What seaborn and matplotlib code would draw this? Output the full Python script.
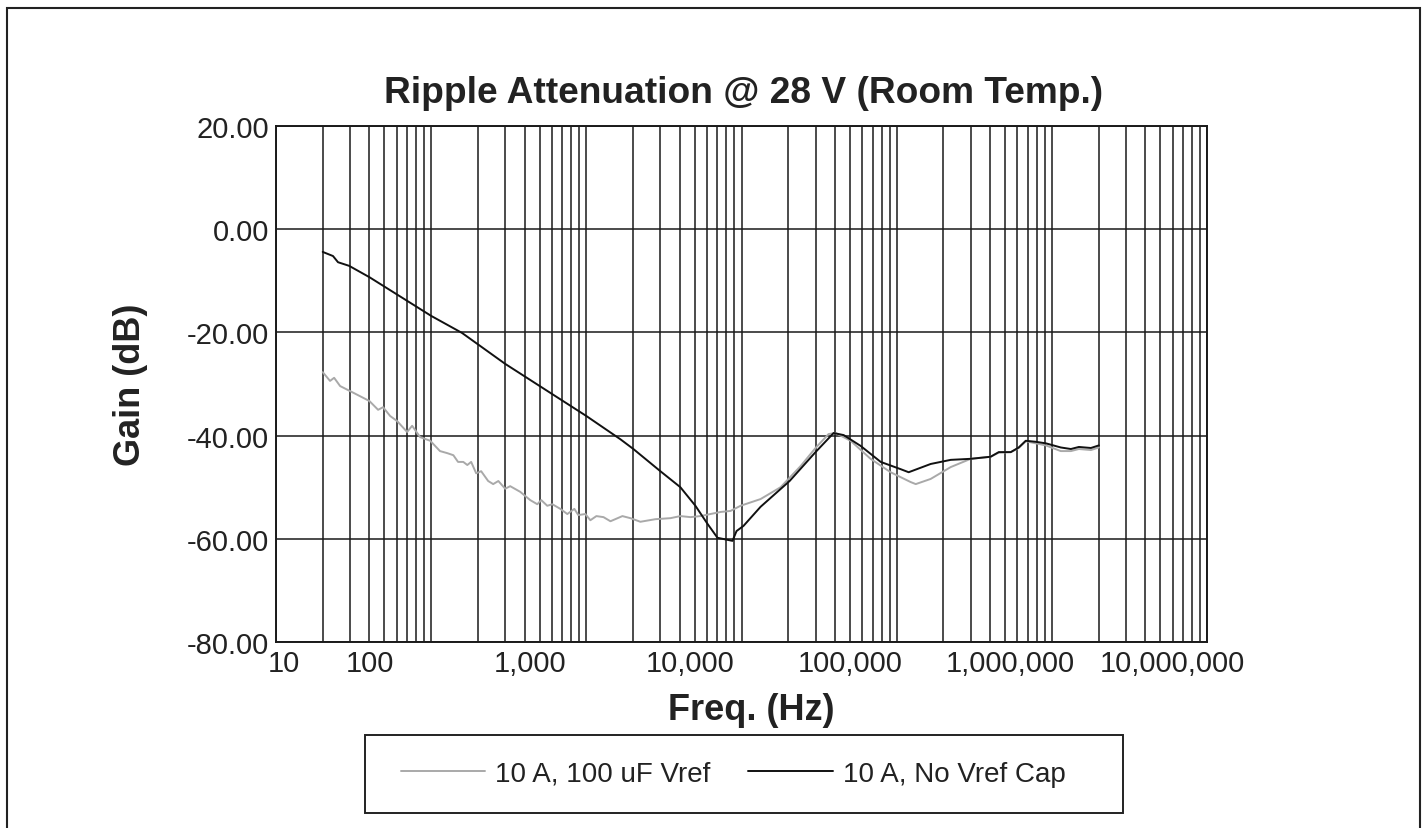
import numpy as np
import pandas as pd
import matplotlib
matplotlib.use("Agg")
import matplotlib.pyplot as plt
import matplotlib.transforms as mtransforms
from matplotlib.patches import Rectangle
from matplotlib.ticker import LogLocator, MultipleLocator, NullFormatter
import seaborn as sns

# --- dati ---
SERIE_GRIGIA = "10 A, 100 uF Vref"
SERIE_NERA = "10 A, No Vref Cap"

freq_grigia = [20, 22.3, 23.7, 25.9, 32, 40, 45.5, 49, 54.4, 60.4, 70, 75.4, 84.9, 98.6,
               114, 127, 139, 149, 161, 171, 181, 195, 210, 233, 251, 271, 300, 323,
               375, 435, 483, 512, 560, 604, 680, 754, 837, 888, 985, 1062, 1161, 1290,
               1430, 1708, 1923, 2230, 2786, 3483, 4036, 4692, 5430, 6310, 7330, 8490,
               9860, 13270, 17870, 24050, 30000, 36400, 40360, 50470, 67900, 91400,
               123000, 132700, 165600, 223000, 300000, 403000, 455000, 544000, 612000,
               679000, 788000, 915000, 1142000, 1327000, 1494000, 1786000, 2009000]
gain_grigia = [-27.7, -29.4, -28.8, -30.4, -31.8, -33.3, -35.0, -34.5, -36.2, -37.2, -39.3,
               -38.1, -40.3, -41.0, -43.0, -43.4, -43.8, -45.1, -45.1, -45.7, -45.1, -47.3,
               -46.9, -48.8, -49.4, -48.8, -50.3, -49.8, -50.9, -52.5, -53.3, -52.5, -53.6,
               -53.3, -54.2, -55.2, -54.2, -55.4, -55.2, -56.4, -55.6, -55.8, -56.6, -55.6,
               -56.0, -56.7, -56.2, -56.0, -55.6, -55.8, -55.6, -55.2, -54.8, -54.6, -53.6,
               -52.3, -50.0, -45.9, -42.4, -39.7, -39.5, -41.0, -44.5, -47.1, -49.0, -49.4,
               -48.4, -46.1, -44.5, -44.1, -43.3, -43.2, -42.4, -41.1, -41.5, -41.9, -43.0,
               -43.0, -42.6, -42.8, -42.3]

freq_nera = [20, 23.3, 25.1, 29.6, 40, 100, 158, 300, 1000, 1656, 2010, 3000, 4036, 5046,
             6037, 7000, 8750, 9290, 10300, 13270, 20420, 30000, 39230, 45540, 58600,
             78900, 106000, 119500, 165600, 223000, 300000, 403000, 455000, 544000,
             612000, 679000, 788000, 915000, 1142000, 1327000, 1494000, 1786000, 2009000]
gain_nera = [-4.4, -5.2, -6.4, -7.1, -9.3, -16.8, -20.1, -26.1, -36.2, -40.7, -42.6, -46.9,
             -50.0, -53.6, -57.1, -59.8, -60.4, -58.5, -57.5, -53.8, -48.8, -43.2, -39.5,
             -39.9, -42.0, -45.1, -46.5, -47.1, -45.5, -44.7, -44.5, -44.1, -43.2, -43.2,
             -42.3, -41.0, -41.2, -41.5, -42.3, -42.6, -42.2, -42.4, -41.9]

decadi = [10, 100, 1000, 10000, 100000, 1000000, 10000000]
etichette_x = ["10", "100", "1,000", "10,000", "100,000", "1,000,000", "10,000,000"]
tick_y = [-80, -60, -40, -20, 0, 20]

# spostamento (pixel) delle etichette x come nell'originale
offset_etichette = [8, -61, -56, -51, -46, -42, -35]

df = pd.concat([
    pd.DataFrame({"freq": freq_grigia, "gain": gain_grigia, "serie": SERIE_GRIGIA}),
    pd.DataFrame({"freq": freq_nera, "gain": gain_nera, "serie": SERIE_NERA}),
], ignore_index=True)

sns.set_style("white")
plt.rcParams['font.family'] = ['Liberation Sans', 'DejaVu Sans']

W, H = 1426, 829
fig = plt.figure(figsize=(W / 100, H / 100), dpi=100)
ax = fig.add_axes([276 / W, 1 - 643 / H, (1207 - 276) / W, (643 - 127) / H])

sns.lineplot(data=df, x="freq", y="gain", hue="serie",
             palette={SERIE_GRIGIA: "#a9a9a9", SERIE_NERA: "#111111"},
             estimator=None, linewidth=1.4, ax=ax)

ax.set_xscale("log")
ax.set_xlim(10, 1e7)
ax.set_ylim(-80, 20)

# griglia
ax.set_xticks(decadi)
ax.set_xticklabels(etichette_x)
ax.xaxis.set_minor_locator(LogLocator(base=10, subs=np.arange(2, 10)))
ax.xaxis.set_minor_formatter(NullFormatter())
ax.grid(which="both", axis="x", color="#1a1a1a", linewidth=1.1)
ax.set_yticks(tick_y)
ax.set_yticklabels([f"{v:.2f}" for v in tick_y])
ax.yaxis.set_minor_locator(MultipleLocator(10))
ax.grid(which="major", axis="y", color="#1a1a1a", linewidth=1.1)

ax.tick_params(axis="x", which="both", length=0, labelsize=21, pad=5, colors="#222222")
ax.tick_params(axis="y", which="major", length=4, width=1.0, direction="out",
               labelsize=21, pad=1, colors="#222222")
ax.tick_params(axis="y", which="minor", length=3, width=1.0, direction="in", colors="#222222")
for s in ax.spines.values():
    s.set_visible(True)
    s.set_color("#1a1a1a")
    s.set_linewidth(1.4)

for lab, dx in zip(ax.get_xticklabels(), offset_etichette):
    lab.set_transform(lab.get_transform() +
                      mtransforms.ScaledTranslation(dx / 100, 0, fig.dpi_scale_trans))

ax.set_xlabel("")
ax.set_ylabel("")
fig.text(744 / W, 1 - 103 / H, "Ripple Attenuation @ 28 V (Room Temp.)",
         ha="center", va="baseline", fontsize=26.7, fontweight="bold", color="#222222")
fig.text(751 / W, 1 - 720 / H, "Freq. (Hz)",
         ha="center", va="baseline", fontsize=26, fontweight="bold", color="#222222")
fig.text(131 / W, 1 - 385 / H, "Gain (dB)", rotation=90,
         ha="center", va="center", fontsize=26, fontweight="bold", color="#222222")

# legenda sotto il grafico (cornice disegnata a parte, piu' larga del contenuto)
handles, labels = ax.get_legend_handles_labels()
if ax.legend_:
    ax.legend_.remove()
leg = fig.legend(handles, labels, loc="center", ncol=2,
                 bbox_to_anchor=(733 / W, 1 - 775 / H), bbox_transform=fig.transFigure,
                 fontsize=20, frameon=False, handlelength=3.05, handletextpad=0.35,
                 columnspacing=1.35, borderpad=0.0)
for t in leg.get_texts():
    t.set_color("#222222")
fig.patches.append(Rectangle((365 / W, 1 - 814 / H), (1123 - 365) / W, 78 / H,
                             transform=fig.transFigure, fill=False,
                             edgecolor="#222222", linewidth=1.4))

# cornice esterna
fig.patches.append(Rectangle((7 / W, -0.02), (1420 - 7) / W, 1.02 - 9 / H,
                             transform=fig.transFigure, fill=False,
                             edgecolor="#222222", linewidth=1.5, clip_on=False))

fig.savefig("out.png", dpi=100)
